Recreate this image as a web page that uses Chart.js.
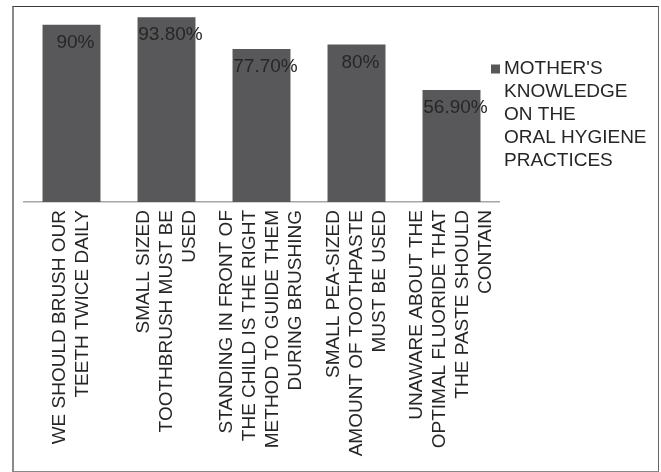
<!DOCTYPE html>
<html>
<head>
<meta charset="utf-8">
<script src="https://cdn.jsdelivr.net/npm/chart.js@4/dist/chart.umd.min.js"></script>
<style>
  body { margin: 0; background: #fff; }
  #wrap { position: relative; width: 661px; height: 472px; }
  #frame {
    position: absolute; left: 12px; top: 6px; width: 647px; height: 466px;
    box-sizing: border-box; pointer-events: none;
    border-top: 1px solid #3a3a3a; border-left: 2px solid #8a8a8a;
    border-right: 1px solid #666; border-bottom: 1px solid #888;
  }
</style>
</head>
<body>
<div id="wrap">
  <canvas id="chart" width="661" height="472"></canvas>
  <div id="frame"></div>
</div>
<script>
// data
const categories = [
  ["WE SHOULD BRUSH OUR", "TEETH TWICE DAILY"],
  ["SMALL SIZED", "TOOTHBRUSH MUST BE", "USED"],
  ["STANDING IN FRONT OF", "THE CHILD IS THE RIGHT", "METHOD TO GUIDE THEM", "DURING BRUSHING"],
  ["SMALL PEA-SIZED", "AMOUNT OF TOOTHPASTE", "MUST BE USED"],
  ["UNAWARE ABOUT THE", "OPTIMAL FLUORIDE THAT", "THE PASTE SHOULD", "CONTAIN"]
];
const values = [90, 93.8, 77.7, 80, 56.9];
const seriesName = ["MOTHER'S", "KNOWLEDGE", "ON THE", "ORAL HYGIENE", "PRACTICES"];

const FONT = '19px "Liberation Sans", Arial, sans-serif';
const BAR_COLOR = "#58585a";
const TEXT_COLOR = "#262626";

function fmt(v) {
  return Number.isInteger(v) ? v + "%" : v.toFixed(2) + "%";
}

// value labels inside the top of each bar (like excel "inside end")
const valueLabels = {
  id: "valueLabels",
  afterDatasetsDraw(chart) {
    const ctx = chart.ctx;
    const meta = chart.getDatasetMeta(0);
    ctx.save();
    ctx.font = FONT;
    ctx.fillStyle = TEXT_COLOR;
    ctx.textAlign = "center";
    ctx.textBaseline = "middle";
    meta.data.forEach((bar, i) => {
      ctx.fillText(fmt(values[i]), bar.x + 4, bar.y + 18);
    });
    ctx.restore();
  }
};

// rotated, multi-line category labels under the axis
const xLabels = {
  id: "xLabels",
  afterDraw(chart) {
    const ctx = chart.ctx;
    const xs = chart.scales.x;
    const top = chart.chartArea.bottom + 8;
    const lh = 23;
    ctx.save();
    ctx.font = FONT;
    ctx.fillStyle = TEXT_COLOR;
    ctx.textAlign = "right";
    ctx.textBaseline = "middle";
    categories.forEach((lines, i) => {
      const x = xs.getPixelForValue(i);
      ctx.save();
      ctx.translate(x, top);
      ctx.rotate(-Math.PI / 2);
      lines.forEach((line, j) => {
        ctx.fillText(line, 0, (j - (lines.length - 1) / 2) * lh);
      });
      ctx.restore();
    });
    ctx.restore();
  }
};

// legend on the right with a wrapped series name
const sideLegend = {
  id: "sideLegend",
  afterDraw(chart) {
    const ctx = chart.ctx;
    const left = chart.chartArea.right - 8;
    const top = 69;
    ctx.save();
    ctx.fillStyle = BAR_COLOR;
    ctx.fillRect(left, top - 4.5, 9, 9);
    ctx.font = FONT;
    ctx.fillStyle = TEXT_COLOR;
    ctx.textAlign = "left";
    ctx.textBaseline = "middle";
    seriesName.forEach((line, j) => {
      ctx.fillText(line, left + 13, top + j * 23);
    });
    ctx.restore();
  }
};

new Chart(document.getElementById("chart"), {
  type: "bar",
  data: {
    labels: categories.map(c => c.join(" ")),
    datasets: [{
      label: seriesName.join(" "),
      data: values,
      backgroundColor: BAR_COLOR,
      barPercentage: 0.61,
      categoryPercentage: 1.0
    }]
  },
  options: {
    responsive: false,
    animation: false,
    layout: { padding: { left: 24, right: 162, top: 5, bottom: 270 } },
    plugins: { legend: { display: false }, tooltip: { enabled: false } },
    scales: {
      x: {
        grid: { display: false, drawTicks: false },
        border: { display: true, color: "#a6a6a6", width: 1.5 },
        ticks: { display: false }
      },
      y: { display: false, min: 0, max: 100 }
    }
  },
  plugins: [valueLabels, xLabels, sideLegend]
});
</script>
</body>
</html>
